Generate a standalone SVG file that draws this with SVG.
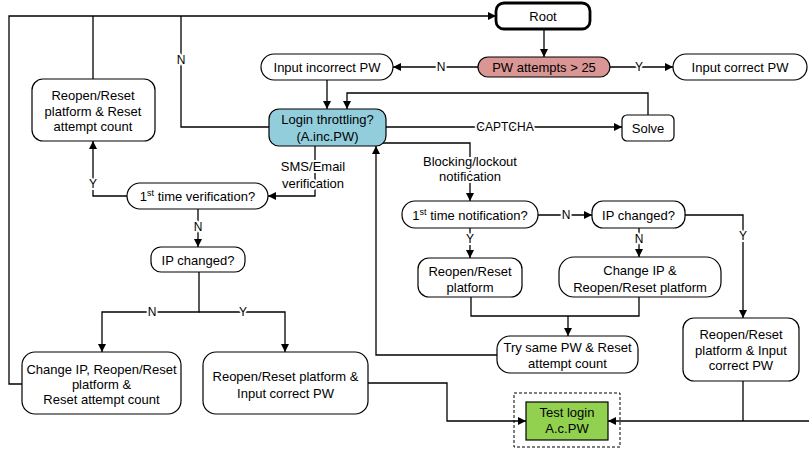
<svg xmlns="http://www.w3.org/2000/svg" width="809" height="452" viewBox="0 0 809 452">
<style>
text{font-family:"Liberation Sans",Arial,sans-serif;font-size:13px;fill:#000;text-anchor:middle}
.lbl{font-size:12px;stroke:#fff;stroke-width:4;paint-order:stroke;stroke-linejoin:round}
.lbl13{font-size:13px;stroke:#fff;stroke-width:4;paint-order:stroke;stroke-linejoin:round}
.box{fill:#fff;stroke:#000;stroke-width:1.2}
.e{fill:none;stroke:#000;stroke-width:1.3}
.a{marker-end:url(#arr)}
</style>
<defs>
<marker id="arr" markerUnits="userSpaceOnUse" markerWidth="9" markerHeight="8" refX="8" refY="4" orient="auto">
<path d="M0,0 L8,4 L0,8 z" fill="#000"/>
</marker>
</defs>
<g id="connectors">
<path class="e a" d="M22,384 H9 V16 H496"/>
<path class="e" d="M93,79 V16"/>
<path class="e" d="M269,127 H181 V16"/>
<path class="e a" d="M544,29 V57"/>
<path class="e a" d="M478,67 H393"/>
<path class="e a" d="M610,67 H673"/>
<path class="e a" d="M327,80 V109"/>
<path class="e a" d="M648,115 V93 H347 V109"/>
<path class="e a" d="M386,127 H622"/>
<path class="e a" d="M383,143 H470 V201"/>
<path class="e a" d="M315,146 V196 H268"/>
<path class="e a" d="M127,196 H93 V141"/>
<path class="e a" d="M198,209 V247"/>
<path class="e a" d="M199,272 V312 H102 V352"/>
<path class="e a" d="M199,312 H285 V352"/>
<path class="e a" d="M368,383 H447 V421 H526"/>
<path class="e a" d="M809,421 H608"/>
<path class="e" d="M743,381 V421"/>
<path class="e a" d="M538,215 H592"/>
<path class="e a" d="M685,215 H743 V318"/>
<path class="e a" d="M639,228 V257"/>
<path class="e a" d="M470,228 V258"/>
<path class="e" d="M471,297 V316 H639 V297"/>
<path class="e a" d="M568,316 V336"/>
<path class="e a" d="M497,355 H376 V146"/>
<text class="lbl" x="181" y="64">N</text>
<text class="lbl" x="441" y="71">N</text>
<text class="lbl" x="639" y="71">Y</text>
<text class="lbl" x="505" y="131">CAPTCHA</text>
<text class="lbl13" x="470" y="166">Blocking/lockout</text>
<text class="lbl13" x="470" y="181">notification</text>
<text class="lbl13" x="313" y="171">SMS/Email</text>
<text class="lbl13" x="313" y="188">verification</text>
<text class="lbl" x="93" y="188">Y</text>
<text class="lbl" x="198" y="231">N</text>
<text class="lbl" x="152" y="316">N</text>
<text class="lbl" x="243" y="316">Y</text>
<text class="lbl" x="566" y="219">N</text>
<text class="lbl" x="743" y="240">Y</text>
<text class="lbl" x="639" y="243">N</text>
<text class="lbl" x="470" y="243">Y</text>
</g>
<g id="root">
<rect x="496" y="3" width="94" height="26" rx="8" fill="#fff" stroke="#000" stroke-width="2.8"/>
<text x="543" y="21">Root</text>
</g>
<g id="pw-attempts">
<rect x="478" y="57" width="132" height="20" rx="10" fill="#d99694" stroke="#000" stroke-width="1.2"/>
<text x="544" y="72">PW attempts &gt; 25</text>
</g>
<g id="input-incorrect">
<rect class="box" x="261" y="54" width="132" height="26" rx="13"/>
<text x="327" y="72">Input incorrect PW</text>
</g>
<g id="input-correct">
<rect class="box" x="673" y="54" width="134" height="26" rx="13"/>
<text x="740" y="72">Input correct PW</text>
</g>
<g id="login-throttling">
<rect x="269" y="109" width="117" height="37" rx="10" fill="#92cddc" stroke="#000" stroke-width="1.2"/>
<text x="327.5" y="124">Login throttling?</text>
<text x="327.5" y="141">(A.inc.PW)</text>
</g>
<g id="solve">
<rect class="box" x="622" y="115" width="52" height="26" rx="5"/>
<text x="648" y="133">Solve</text>
</g>
<g id="reopen-reset-count">
<rect class="box" x="32" y="79" width="123" height="62" rx="11"/>
<text x="93" y="100">Reopen/Reset</text>
<text x="93" y="115.5">platform &amp; Reset</text>
<text x="93" y="131">attempt count</text>
</g>
<g id="first-verification">
<rect class="box" x="127" y="183" width="141" height="26" rx="13"/>
<text x="197.5" y="201">1<tspan font-size="9" dy="-5">st</tspan><tspan dy="5"> time verification?</tspan></text>
</g>
<g id="ip-changed-left">
<rect class="box" x="151" y="247" width="94" height="25" rx="10"/>
<text x="198" y="264.5">IP changed?</text>
</g>
<g id="change-ip-left">
<rect class="box" x="22" y="352" width="159" height="62" rx="13"/>
<text x="101.5" y="374">Change IP, Reopen/Reset</text>
<text x="101.5" y="389">platform &amp;</text>
<text x="101.5" y="404">Reset attempt count</text>
</g>
<g id="reopen-input-left">
<rect class="box" x="203" y="352" width="165" height="62" rx="13"/>
<text x="285.5" y="381">Reopen/Reset platform &amp;</text>
<text x="285.5" y="398">Input correct PW</text>
</g>
<g id="first-notification">
<rect class="box" x="402" y="201" width="136" height="27" rx="13"/>
<text x="470" y="219.5">1<tspan font-size="9" dy="-5">st</tspan><tspan dy="5"> time notification?</tspan></text>
</g>
<g id="ip-changed-right">
<rect class="box" x="592" y="201" width="93" height="27" rx="11"/>
<text x="638.5" y="219.5">IP changed?</text>
</g>
<g id="reopen-platform">
<rect class="box" x="418" y="258" width="104" height="39" rx="11"/>
<text x="470" y="276">Reopen/Reset</text>
<text x="470" y="292">platform</text>
</g>
<g id="change-ip-right">
<rect class="box" x="559" y="257" width="162" height="40" rx="15"/>
<text x="640" y="275">Change IP &amp;</text>
<text x="640" y="292">Reopen/Reset platform</text>
</g>
<g id="try-same">
<rect class="box" x="497" y="336" width="141" height="37" rx="13"/>
<text x="567.5" y="352">Try same PW &amp; Reset</text>
<text x="567.5" y="368">attempt count</text>
</g>
<g id="reopen-input-right">
<rect class="box" x="683" y="318" width="116" height="63" rx="11"/>
<text x="741" y="339">Reopen/Reset</text>
<text x="741" y="355">platform &amp; Input</text>
<text x="741" y="370">correct PW</text>
</g>
<g id="test-login">
<rect x="514" y="393" width="106" height="54" fill="none" stroke="#000" stroke-width="1" stroke-dasharray="3,2"/>
<rect x="526" y="402" width="82" height="38" fill="#92d050" stroke="#000" stroke-width="1.2"/>
<text x="567" y="417">Test login</text>
<text x="567" y="433">A.c.PW</text>
</g>
</svg>
